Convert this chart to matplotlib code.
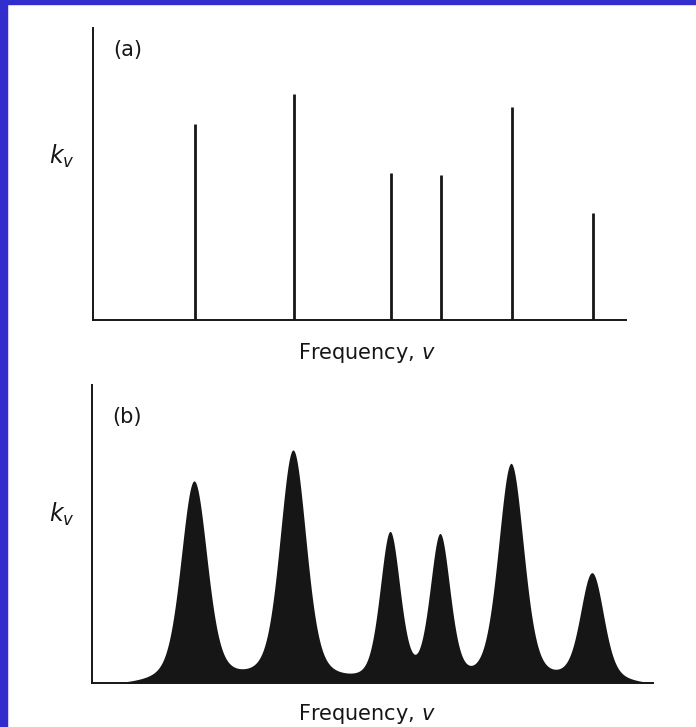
import matplotlib
matplotlib.use("Agg")
import matplotlib.pyplot as plt
from matplotlib.patches import Rectangle
import numpy as np

# line positions (arbitrary frequency units) and line strengths
LINE_FREQ = [102, 201, 298, 348, 419, 500]
LINE_STRENGTH = [196, 226, 147, 145, 213, 107]

# broadening for panel (b): gaussian core half-width and lorentz wing width per line
CORE_HWHM = [15, 15, 12, 12, 15, 13]
WING_GAMMA = [18, 18, 12, 12, 16, 18]
WING_FRAC = 0.35
CONTINUUM = 4.5

X_MAX_A = 533
X_MAX_B = 561
Y_MAX_A = 292
Y_MAX_B = 289

BORDER_BLUE = "#322dcd"
INK = "#161616"
FONT = "DejaVu Sans"


def line_shape(x, centre, core, wing):
    d = np.asarray(x, dtype=float) - centre
    core_part = np.exp(-np.log(2.0) * (d / core) ** 2)
    wing_part = 1.0 / (1.0 + (d / wing) ** 2)
    return (1.0 - WING_FRAC) * core_part + WING_FRAC * wing_part


def broadened_profile(x):
    lines = list(zip(LINE_FREQ, CORE_HWHM, WING_GAMMA))
    # scale each line so the summed profile peaks at its line strength
    shape_at_centres = np.array([[line_shape(ci, c, w, g) for c, w, g in lines] for ci in LINE_FREQ])
    amps = np.linalg.solve(shape_at_centres, np.array(LINE_STRENGTH, dtype=float) + CONTINUUM)
    total = sum(a * line_shape(x, c, w, g) for a, (c, w, g) in zip(amps, lines))
    return np.clip(total - CONTINUUM, 0.0, None)


def style_axes(ax, x_max, y_max):
    ax.set_xlim(0, x_max)
    ax.set_ylim(0, y_max)
    ax.set_xticks([])
    ax.set_yticks([])
    for side in ("top", "right"):
        ax.spines[side].set_visible(False)
    for side in ("left", "bottom"):
        ax.spines[side].set_linewidth(1.4)
        ax.spines[side].set_color(INK)
    ax.patch.set_alpha(0)


def main():
    w, h = 696, 727
    fig = plt.figure(figsize=(w / 100, h / 100), dpi=100)
    fig.patch.set_facecolor("white")

    fig.patches.append(Rectangle((0, 0), 7 / w, 1, transform=fig.transFigure, color=BORDER_BLUE, zorder=0))
    fig.patches.append(Rectangle((0, 1 - 4 / h), 1, 4 / h, transform=fig.transFigure, color=BORDER_BLUE, zorder=0))

    ax_a = fig.add_axes([93 / w, 1 - 320 / h, (626 - 93) / w, (320 - 28) / h])
    ax_a.vlines(LINE_FREQ, 0, LINE_STRENGTH, colors=INK, linewidth=2.0)
    style_axes(ax_a, X_MAX_A, Y_MAX_A)

    ax_b = fig.add_axes([92 / w, 1 - 683 / h, (653 - 92) / w, (683 - 385) / h])
    x = np.linspace(0, X_MAX_B, 3000)
    ax_b.fill_between(x, 0, broadened_profile(x), color=INK, linewidth=0)
    style_axes(ax_b, X_MAX_B, Y_MAX_B)

    label_kw = dict(fontsize=15, family=FONT, color=INK)
    fig.text(128 / w, 1 - 50 / h, "(a)", ha="center", va="center", **label_kw)
    fig.text(127 / w, 1 - 417 / h, "(b)", ha="center", va="center", **label_kw)
    fig.text(62 / w, 1 - 156 / h, r"$k_v$", ha="center", va="center", fontsize=17, color=INK)
    fig.text(62 / w, 1 - 514 / h, r"$k_v$", ha="center", va="center", fontsize=17, color=INK)
    fig.text(367 / w, 1 - 359 / h, r"Frequency, $v$", ha="center", va="baseline", **label_kw)
    fig.text(367 / w, 1 - 720 / h, r"Frequency, $v$", ha="center", va="baseline", **label_kw)

    fig.savefig("out.png", dpi=100, facecolor=fig.get_facecolor())


if __name__ == "__main__":
    main()
